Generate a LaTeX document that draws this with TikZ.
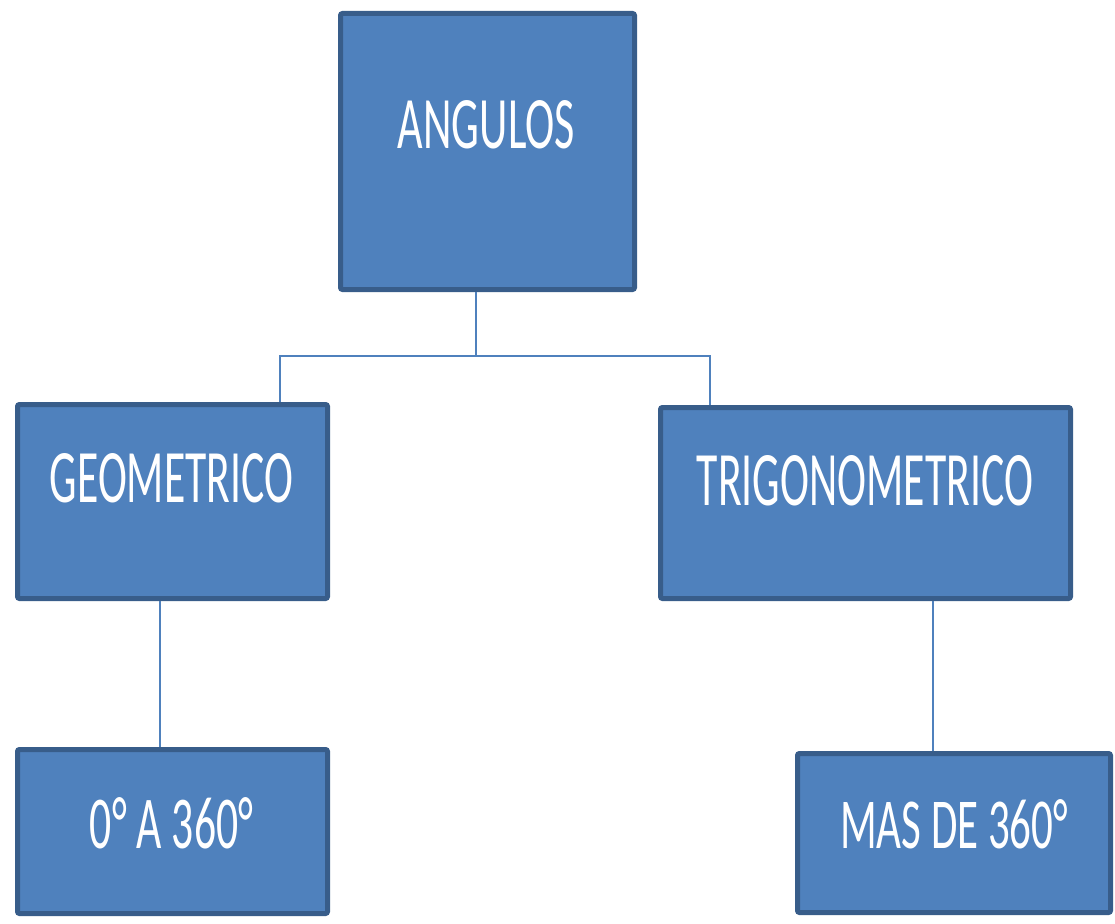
\documentclass[tikz,border=0pt]{standalone}
\usepackage{fontspec}
\setmainfont{Carlito}
\definecolor{boxfill}{HTML}{4F81BD}
\definecolor{boxline}{HTML}{385D8A}
\definecolor{conn}{HTML}{4F81BD}
\tikzset{
  card/.style={draw=boxline, fill=boxfill, line width=5pt, rounded corners=2pt, rectangle, inner sep=0pt},
  lbl/.style={anchor=base, inner sep=0pt, text=white},
  link/.style={draw=conn, line width=2pt}
}
\begin{document}
\begin{tikzpicture}[x=1pt,y=-1pt]
\useasboundingbox (0,0) rectangle (1115,923);
% boxes
\node[card, minimum width=294pt, minimum height=276pt] (A) at (487.5,151.5) {};
\node[card, minimum width=310pt, minimum height=194pt] (G) at (172.5,501.5) {};
\node[card, minimum width=410pt, minimum height=191pt] (T) at (865.5,503) {};
\node[card, minimum width=310pt, minimum height=164pt] (Z) at (172.5,831.5) {};
\node[card, minimum width=313pt, minimum height=159pt] (M) at (954,833) {};
% texts
\node[lbl] (tA) at (486.5,148) {\resizebox{177pt}{48pt}{ANGULOS}};
\node[lbl] (tG) at (171.5,502) {\resizebox{243pt}{49pt}{GEOMETRICO}};
\node[lbl] (tT) at (865,505) {\resizebox{336pt}{50pt}{TRIGONOMETRICO}};
\node[lbl] (tZ) at (171.5,848) {\resizebox{163pt}{51pt}{0° A 360°}};
\node[lbl] (tM) at (954,848) {\resizebox{228pt}{49pt}{MAS DE 360°}};
% connectors
\coordinate (j) at (476,356);
\coordinate (jl) at (280,356);
\coordinate (jr) at (710,356);
\coordinate (gz) at (160,0);
\coordinate (tm) at (933,0);
\draw[link] (j |- A.south) -- (j);
\draw[link] (jl |- G.north) -- (jl) -- (jr) -- (jr |- T.north);
\draw[link] (gz |- G.south) -- (gz |- Z.north);
\draw[link] (tm |- T.south) -- (tm |- M.north);
\end{tikzpicture}
\end{document}
